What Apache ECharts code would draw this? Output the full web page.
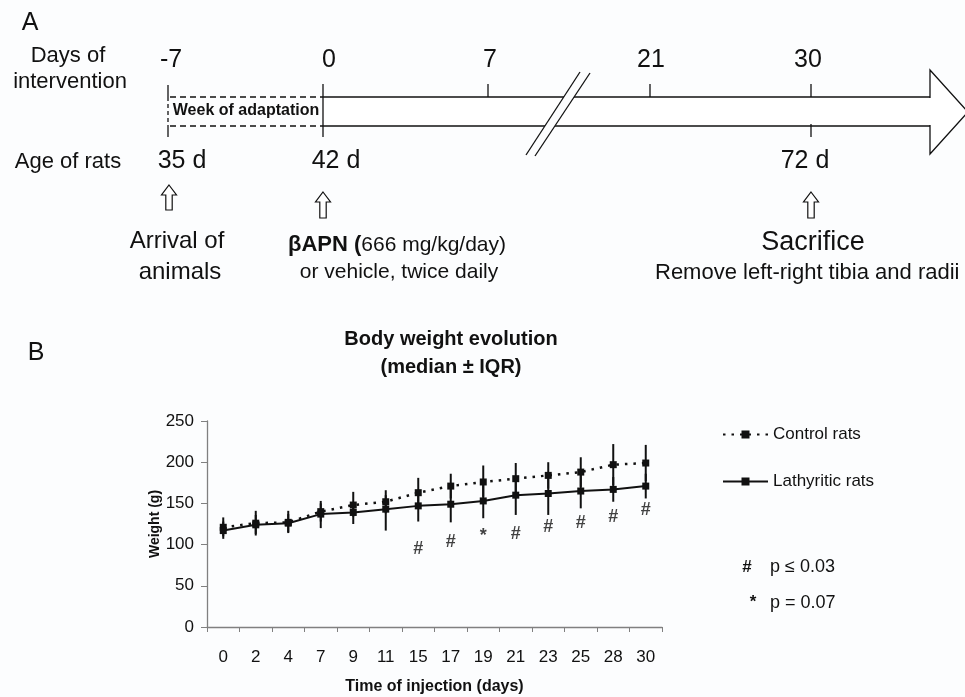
<!DOCTYPE html>
<html>
<head>
<meta charset="utf-8">
<script src="https://cdn.jsdelivr.net/npm/echarts@6/dist/echarts.min.js"></script>
<style>
  html, body { margin: 0; padding: 0; background: #fcfdfe; }
  #chart { width: 965px; height: 697px; }
</style>
</head>
<body>
<div id="chart"></div>
<script>
// ---- Panel B data ----
const xLabels = ['0', '2', '4', '7', '9', '11', '15', '17', '19', '21', '23', '25', '28', '30'];
const controlMedian = [121, 126, 127, 140, 148, 152, 163, 171, 176, 180, 184, 188, 197, 199];
const controlQ1     = [110, 113, 115, 128, 134, 138, 146, 156, 158, 162, 168, 170, 172, 177];
const controlQ3     = [133, 141, 141, 153, 164, 166, 181, 186, 196, 199, 200, 206, 222, 221];
const lathMedian    = [117, 124, 126, 137, 139, 143, 147, 149, 153, 160, 162, 165, 167, 171];
const lathQ1        = [107, 111, 114, 120, 125, 117, 128, 127, 132, 136, 136, 144, 152, 156];
const lathQ3        = [128, 136, 137, 150, 150, 160, 165, 170, 175, 183, 187, 186, 182, 186];
const sigMarks      = ['', '', '', '', '', '', '#', '#', '*', '#', '#', '#', '#', '#'];
const sigLevel      = [null, null, null, null, null, null, 95, 103, 110, 113, 121, 126, 134, 142];
const yTicks = [0, 50, 100, 150, 200, 250];

// ---- Panel A labels ----
const daysLabels = ['-7', '0', '7', '21', '30'];
const ageLabels = ['35 d', '42 d', '72 d'];

const FONT = '"Liberation Sans", Arial, Helvetica, sans-serif';
const INK = '#111';

function txt(x, y, text, size, opts) {
  opts = opts || {};
  return {
    type: 'text', x: x, y: y, z: 10,
    style: Object.assign({
      text: text, fontSize: size, fontFamily: FONT, fontWeight: opts.bold ? 'bold' : 'normal',
      fill: INK, align: opts.align || 'center', verticalAlign: 'middle',
      textAlign: opts.align || 'center', textVerticalAlign: 'middle'
    }, opts.extra || {})
  };
}
function seg(x1, y1, x2, y2, w, dash) {
  return {
    type: 'line', z: 5,
    shape: { x1: x1, y1: y1, x2: x2, y2: y2 },
    style: { stroke: INK, lineWidth: w || 1.3, lineDash: dash || null }
  };
}
function upArrow(cx, top, bottom) {
  const hw = 7.5, sw = 3.2, hh = 10;
  return {
    type: 'polygon', z: 5,
    shape: { points: [[cx, top], [cx + hw, top + hh], [cx + sw, top + hh], [cx + sw, bottom],
                      [cx - sw, bottom], [cx - sw, top + hh], [cx - hw, top + hh]] },
    style: { fill: '#fff', stroke: INK, lineWidth: 1.2 }
  };
}

const graphics = [];
// Panel letters
graphics.push(txt(30, 23, 'A', 25, { align: 'center' }));
graphics.push(txt(36, 353, 'B', 25, { align: 'center' }));
// Row headers
graphics.push(txt(68, 56, 'Days of', 22));
graphics.push(txt(70, 82, 'intervention', 22));
graphics.push(txt(68, 162, 'Age of rats', 22));
// Days labels
const dayX = [171, 329, 490, 651, 808];
daysLabels.forEach((d, i) => graphics.push(txt(dayX[i], 60, d, 25)));
// Age labels
const ageX = [182, 336, 805];
ageLabels.forEach((d, i) => graphics.push(txt(ageX[i], 161, d, 25)));

// Timeline body
graphics.push({ type: 'rect', z: 2, shape: { x: 323, y: 97, width: 607, height: 29 }, style: { fill: '#fff' } });
graphics.push(seg(323, 97, 930, 97));
graphics.push(seg(323, 126, 930, 126));
// arrowhead
graphics.push({
  type: 'polygon', z: 4,
  shape: { points: [[930, 97], [930, 70], [968, 112], [930, 154], [930, 126]] },
  style: { fill: '#fff', stroke: INK, lineWidth: 1.3 }
});
graphics.push({ type: 'rect', z: 6, shape: { x: 926, y: 98, width: 8, height: 27 }, style: { fill: '#fff' } });
// adaptation week (dashed)
graphics.push(seg(170, 97, 323, 97, 1.3, [6, 4]));
graphics.push(seg(170, 126, 323, 126, 1.3, [6, 4]));
graphics.push(seg(168, 85, 168, 97));
graphics.push(seg(168, 97, 168, 126, 1.3, [4, 3]));
graphics.push(seg(168, 126, 168, 137));
graphics.push(txt(246, 111, 'Week of adaptation', 16, { bold: true }));
// ticks
graphics.push(seg(323, 84, 323, 137));
graphics.push(seg(488, 84, 488, 97));
graphics.push(seg(650, 84, 650, 97));
graphics.push(seg(811, 84, 811, 97));
graphics.push(seg(811, 124, 811, 137));
// axis break
graphics.push({
  type: 'polygon', z: 7,
  shape: { points: [[580, 72], [590, 73], [535, 156], [526, 155]] },
  style: { fill: '#fcfdfe' }
});
graphics.push(Object.assign(seg(580, 72, 526, 155), { z: 8 }));
graphics.push(Object.assign(seg(590, 73, 535, 156), { z: 8 }));
// event arrows
graphics.push(upArrow(169, 185, 210));
graphics.push(upArrow(323, 192, 218));
graphics.push(upArrow(811, 192, 218));
// event texts
graphics.push(txt(177, 241, 'Arrival of', 24));
graphics.push(txt(180, 272, 'animals', 24));
graphics.push(txt(397, 245, '{b|βAPN (}666 mg/kg/day)', 21, {
  extra: { rich: { b: { fontWeight: 'bold', fontSize: 22, fontFamily: FONT, fill: INK } } }
}));
graphics.push(txt(399, 272, 'or vehicle, twice daily', 21));
graphics.push(txt(813, 243, 'Sacrifice', 27));
graphics.push(txt(655, 273, 'Remove left-right tibia and radii', 22, { align: 'left' }));

// Panel B title
graphics.push(txt(451, 339, 'Body weight evolution', 20, { bold: true }));
graphics.push(txt(451, 367, '(median ± IQR)', 20, { bold: true }));
// significance legend
graphics.push(txt(747, 567, '#', 17, { bold: true }));
graphics.push(txt(770, 567, 'p ≤ 0.03', 18, { align: 'left' }));
graphics.push(txt(753, 602, '*', 17, { bold: true }));
graphics.push(txt(770, 603, 'p = 0.07', 18, { align: 'left' }));

function errorRender(params, api) {
  const i = api.value(0);
  const a = api.coord([i, api.value(1)]);
  const b = api.coord([i, api.value(2)]);
  return { type: 'line', shape: { x1: a[0], y1: a[1], x2: b[0], y2: b[1] }, style: { stroke: INK, lineWidth: 2 } };
}

const option = {
  backgroundColor: '#fcfdfe',
  animation: false,
  textStyle: { fontFamily: FONT },
  grid: { left: 207, right: 303, top: 421, bottom: 70 },
  legend: {
    data: ['Control rats', 'Lathyritic rats'],
    orient: 'vertical', left: 717, top: 421, itemWidth: 45, itemHeight: 10, itemGap: 30,
    textStyle: { fontSize: 17, color: INK, fontFamily: FONT }
  },
  xAxis: {
    type: 'category', data: xLabels, boundaryGap: true,
    name: 'Time of injection (days)', nameLocation: 'middle', nameGap: 52,
    nameTextStyle: { fontSize: 16, fontWeight: 'bold', color: INK, fontFamily: FONT },
    axisLine: { lineStyle: { color: '#808080', width: 1.3 } },
    axisTick: { show: true, length: 5, interval: 0, lineStyle: { color: '#808080' } },
    axisLabel: { fontSize: 17, color: INK, margin: 22, interval: 0 }
  },
  yAxis: {
    type: 'value', min: 0, max: 250, interval: 50,
    name: 'Weight (g)', nameLocation: 'middle', nameGap: 34, nameRotate: 90,
    nameTextStyle: { fontSize: 14, fontWeight: 'bold', color: INK, fontFamily: FONT },
    axisLine: { show: true, lineStyle: { color: '#808080', width: 1.3 } },
    axisTick: { show: true, length: 6, lineStyle: { color: '#808080' } },
    splitLine: { show: false },
    axisLabel: { fontSize: 17, color: INK, margin: 13 }
  },
  graphic: graphics,
  series: [
    {
      name: 'Control error', type: 'custom', renderItem: errorRender, z: 3,
      data: xLabels.map((_, i) => [i, controlQ1[i], controlQ3[i]])
    },
    {
      name: 'Lathyritic error', type: 'custom', renderItem: errorRender, z: 3,
      data: xLabels.map((_, i) => [i, lathQ1[i], lathQ3[i]])
    },
    {
      name: 'Control rats', type: 'line', data: controlMedian, z: 4,
      symbol: 'rect', symbolSize: 7,
      itemStyle: { color: INK },
      lineStyle: { color: INK, width: 2.5, type: [2.5, 6] }
    },
    {
      name: 'Lathyritic rats', type: 'line', data: lathMedian, z: 4,
      symbol: 'rect', symbolSize: 7,
      itemStyle: { color: INK },
      lineStyle: { color: INK, width: 2 }
    },
    {
      name: 'Significance', type: 'scatter', symbolSize: 0, z: 5,
      data: xLabels.map((_, i) => sigLevel[i] == null ? null : [i, sigLevel[i]]).filter(d => d),
      label: {
        show: true, position: 'inside', fontSize: 18, fontWeight: 'bold', color: INK, fontFamily: FONT,
        formatter: p => sigMarks[p.value[0]]
      }
    }
  ]
};

const chart = echarts.init(document.getElementById('chart'), null, { renderer: 'canvas' });
chart.setOption(option);
</script>
</body>
</html>
